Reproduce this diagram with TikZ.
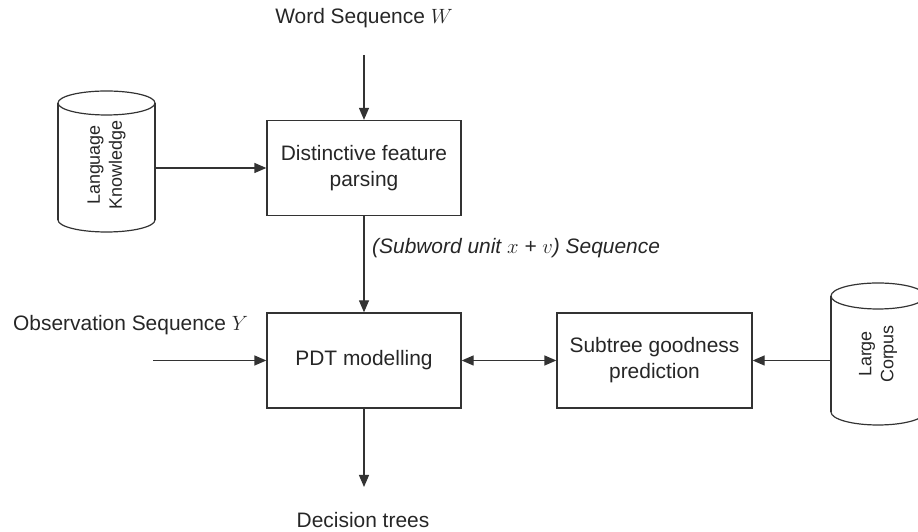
\documentclass[tikz,border=0pt]{standalone}
\usepackage{fontspec}
\setmainfont{Liberation Sans}
\usetikzlibrary{arrows.meta}
\begin{document}
\begin{tikzpicture}[x=1bp,y=1bp,
  every node/.style={text=black!85, inner sep=0pt},
  lbl/.style={font=\fontsize{21}{26}\selectfont},
  procbox/.style={draw=black!80, line width=1.3bp, minimum width=194bp, minimum height=95bp,
    align=center, font=\fontsize{21}{26}\selectfont},
  dbtext/.style={rotate=90, align=center, font=\fontsize{18}{22}\selectfont},
  dbline/.style={draw=black!80, line width=1.2bp},
  tip/.style={Triangle[length=12bp,width=10bp]},
  flow/.style={draw=black!80, line width=1.3bp, -{Triangle[length=12bp,width=10bp]}},
  flowboth/.style={draw=black!80, line width=1.3bp,
    {Triangle[length=12bp,width=10bp]}-{Triangle[length=12bp,width=10bp]}}]
  \useasboundingbox (0,0) rectangle (918,532);
  \clip (0,0) rectangle (918,532);

  % processing blocks
  \node[procbox] (parse) at (364,364) {Distinctive feature\\parsing};
  \node[procbox] (pdt) at (364,171.5) {PDT modelling};
  \node[procbox, minimum width=195bp] (subtree) at (654.5,171.5) {Subtree goodness\\prediction};

  % free text labels
  \node[lbl] (wordseq) at (364,514) {Word Sequence $W$};
  \node[lbl, anchor=west, font=\fontsize{21}{26}\selectfont\itshape] (subword) at (372,284)
    {(Subword unit $x$ + $v$) Sequence};
  \node[lbl, anchor=west] (obsseq) at (13,207) {Observation Sequence $Y$};
  \node[lbl] (dtrees) at (363,12) {Decision trees};

  % language knowledge store
  \draw[dbline] (58,312) -- (58,429);
  \draw[dbline] (155,312) -- (155,429);
  \draw[dbline] (106.5,429) ellipse [x radius=48.5bp, y radius=12bp];
  \draw[dbline] (155,312) arc[start angle=0, end angle=-180, x radius=48.5bp, y radius=12bp];
  \node[dbtext] (langk) at (106.5,367) {Language\\Knowledge};
  \coordinate (langkout) at (155,364);

  % large corpus store
  \draw[dbline] (831,120) -- (831,236);
  \draw[dbline] (925,120) -- (925,236);
  \draw[dbline] (878,236) ellipse [x radius=47bp, y radius=13bp];
  \draw[dbline] (925,120) arc[start angle=0, end angle=-180, x radius=47bp, y radius=13bp];
  \node[dbtext] (corpus) at (878,178) {Large\\Corpus};
  \coordinate (corpusout) at (831,171.5);

  % connectors
  \coordinate (wordin) at (364,477);
  \coordinate (obsin) at (153,171.5);
  \coordinate (treesout) at (364,45);
  \draw[flow] (wordin) -- (parse.north);
  \draw[flow] (langkout) -- (parse.west);
  \draw[flow] (parse.south) -- (pdt.north);
  \draw[flow] (obsin) -- (pdt.west);
  \draw[flowboth] (pdt.east) -- (subtree.west);
  \draw[flow] (corpusout) -- (subtree.east);
  \draw[flow] (pdt.south) -- (treesout);
\end{tikzpicture}
\end{document}
